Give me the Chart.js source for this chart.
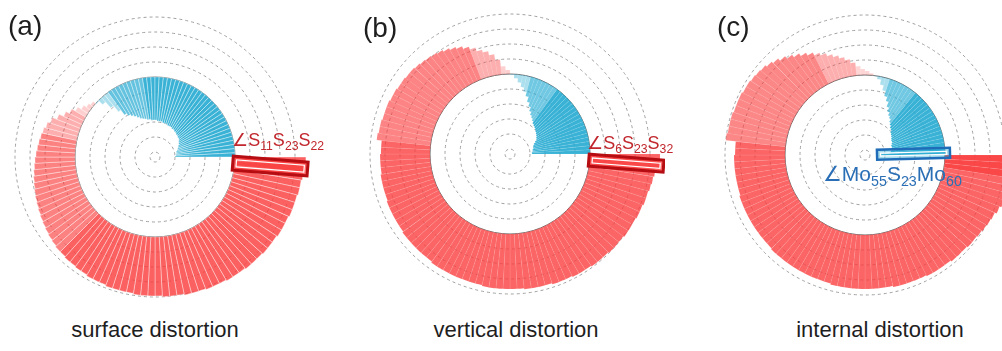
<!DOCTYPE html>
<html>
<head>
<meta charset="utf-8">
<script src="https://cdn.jsdelivr.net/npm/chart.js"></script>
<style>
html, body { margin: 0; padding: 0; background: #fff; overflow: hidden; }
#wrap { position: relative; width: 1002px; height: 351px; overflow: hidden;
  font-family: "Liberation Sans", Arial, "DejaVu Sans", sans-serif; }
canvas { position: absolute; }
.txt { position: absolute; white-space: nowrap; line-height: 1; }
.tag { font-size: 28px; color: #1e1e1e; }
.cap { font-size: 22px; color: #1e1e1e; width: 300px; text-align: center; }
.ang { font-size: 18px; }
.ang sub { font-size: 0.68em; vertical-align: -0.32em; line-height: 0; }
</style>
</head>
<body>
<div id="wrap">
  <canvas id="surf" width="310" height="310" style="left:0px;top:2px"></canvas>
  <canvas id="vert" width="310" height="310" style="left:355px;top:-1px"></canvas>
  <canvas id="intl" width="310" height="310" style="left:710px;top:0px"></canvas>

  <div class="txt tag" style="left:8px;top:12px">(a)</div>
  <div class="txt tag" style="left:363px;top:14px">(b)</div>
  <div class="txt tag" style="left:717px;top:13px">(c)</div>

  <div class="txt ang" style="left:232px;top:131px;color:#c1272d">∠S<sub>11</sub>S<sub>23</sub>S<sub>22</sub></div>
  <div class="txt ang" style="left:587px;top:134px;color:#c1272d">∠S<sub>6</sub>S<sub>23</sub>S<sub>32</sub></div>
  <div class="txt ang" style="left:823px;top:163px;font-size:21px;color:#2a6fb6">∠Mo<sub>55</sub>S<sub>23</sub>Mo<sub>60</sub></div>

  <div class="txt cap" style="left:5px;top:319px">surface distortion</div>
  <div class="txt cap" style="left:366px;top:319px">vertical distortion</div>
  <div class="txt cap" style="left:730px;top:319px">internal distortion</div>
</div>
<script>
// ring grid: 0 is the solid base circle, negative bars point inward (blue), positive outward (red)
const ringTicks = [-5, -4, -3, -2, -1, 0, 1, 2, 3, 4];
const centerValue = -16 / 3;
const outerValue = 5;

// values listed counter-clockwise starting at 3 o'clock, 3 degrees per bar
const surfBlue = [-4.0, -3.93, -3.93, -3.87, -3.87, -3.8, -3.73, -3.67, -3.6, -3.53, -3.47, -3.4,
  -3.33, -3.33, -3.27, -3.27, -3.2, -3.2, -3.13, -3.13, -3.07, -3.07, -3.07, -3.0, -3.0, -3.0,
  -2.93, -2.93, -2.93, -2.87, -2.87, -2.87, -2.8, -2.8, -2.73, -2.67, -2.6, -2.47, -2.33, -2.2,
  -2.07, -1.87, -1.47, -0.93, -0.4, -0.07];
const surfRed = [0.2, 0.33, 0.53, 0.8, 1.07, 1.33, 1.67, 2.0, 2.2, 2.33,
  2.4, 2.47, 2.53, 2.6, 2.67, 2.73, 2.8, 2.87, 2.93, 3.0,
  3.07, 3.13, 3.2, 3.27, 3.33, 3.4, 3.47, 3.53, 3.6, 3.6,
  3.67, 3.67, 3.73, 3.73, 3.8, 3.8, 3.8, 3.87, 3.87, 3.87,
  3.87, 3.93, 3.93, 3.93, 3.93, 4.0, 4.0, 4.0, 4.07, 4.07,
  4.07, 4.13, 4.13, 4.13, 4.2, 4.2, 4.2, 4.27, 4.27, 4.27,
  4.33, 4.33, 4.33, 4.4, 4.4, 4.4, 4.47, 4.47, 4.47, 4.53,
  4.53, 4.6, 4.67, 4.73];

const vertBlue = [-3.87, -3.87, -3.8, -3.8, -3.73, -3.73, -3.67, -3.6, -3.47, -3.33,
  -3.27, -3.2, -3.13, -3.07, -3.0, -2.93, -2.87, -2.8, -2.67, -2.53,
  -2.4, -2.2, -1.93, -1.67, -1.33, -1.07, -0.8, -0.53, -0.27, -0.05];
const vertRed = [0.27, 0.53,
  1.0, 1.4, 1.67, 1.87, 2.13,
  2.33, 2.53, 2.67, 2.8, 2.93, 3.0, 3.07, 3.13, 3.2, 3.27, 3.27, 3.33, 3.33, 3.4, 3.4,
  3.47, 3.47, 3.47, 3.53, 3.53, 3.6,
  3.27, 3.27, 3.33, 3.33, 3.33, 3.4, 3.4, 3.4, 3.4, 3.47, 3.47, 3.47, 3.47, 3.47,
  3.53, 3.53, 3.53, 3.53, 3.53, 3.53, 3.6, 3.6, 3.6, 3.6, 3.6, 3.6, 3.6, 3.6,
  3.67, 3.67, 3.67, 3.67, 3.67, 3.67, 3.73, 3.73, 3.73, 3.73, 3.8, 3.8, 3.8,
  3.87, 3.87, 3.87, 3.93, 3.93, 3.93, 4.0, 4.0, 4.0, 4.07, 4.07, 4.07,
  4.13, 4.13, 4.2, 4.2, 4.27, 4.33, 4.4, 4.67, 4.67];

const intlBlue = [-4.33, -3.67, -3.6, -3.53, -3.53, -3.47, -3.47, -3.4, -3.33, -3.33,
  -3.27, -3.2, -3.13, -3.07, -2.93, -2.87, -2.73, -2.6, -2.4, -2.27,
  -2.07, -1.8, -1.47, -1.2, -0.87, -0.53, -0.2, -0.03];
const intlRed = [0.13, 0.27, 0.4, 0.6,
  0.87, 1.13, 1.33, 1.53, 1.73, 1.93, 2.13,
  2.33, 2.53, 2.73, 2.93, 3.13, 3.33, 3.47, 3.6, 3.67, 3.73, 3.8, 3.8, 3.87, 3.87, 3.87,
  3.93, 3.93, 3.93, 4.0,
  3.33, 3.33, 3.4, 3.4, 3.4, 3.4, 3.4, 3.4, 3.47, 3.47, 3.47, 3.47, 3.47, 3.47, 3.47,
  3.47, 3.47, 3.53, 3.53, 3.53, 3.53, 3.53, 3.53, 3.53, 3.53, 3.53, 3.53, 3.6, 3.6,
  3.6, 3.6, 3.6, 3.6, 3.6, 3.6, 3.6, 3.67, 3.67, 3.67, 3.67, 3.67, 3.73, 3.73, 3.73,
  3.73, 3.8, 3.8, 3.8, 3.87, 3.87, 3.93, 4.0, 4.07, 4.13, 4.27, 4.4, 4.53, 4.73, 4.93,
  5.13, 5.33, 5.47];

// polar area, but every slice starts on the base circle instead of the center
class RingBarController extends Chart.PolarAreaController {
  updateElements(arcs, start, count, mode) {
    super.updateElements(arcs, start, count, mode);
    const scale = this._cachedMeta.rScale;
    const base = scale.getDistanceFromCenterForValue(0);
    for (let i = start; i < start + count; i++) {
      const r = scale.getDistanceFromCenterForValue(this.getParsed(i).r);
      arcs[i].innerRadius = Math.min(base, r);
      arcs[i].outerRadius = Math.max(base, r);
    }
  }
}
RingBarController.id = 'ringBar';
RingBarController.defaults = Chart.PolarAreaController.defaults;
RingBarController.overrides = Chart.PolarAreaController.overrides;
Chart.register(RingBarController);

// outline box around the picked bar
const pickPlugin = {
  id: 'pick',
  afterDatasetsDraw(chart, args, o) {
    const arc = chart.getDatasetMeta(0).data[o.index];
    if (!arc) return;
    const ctx = chart.ctx;
    const mid = (arc.startAngle + arc.endAngle) / 2;
    const x0 = arc.innerRadius - o.padIn;
    const len = arc.outerRadius + o.padOut - x0;
    ctx.save();
    ctx.translate(arc.x, arc.y);
    ctx.rotate(mid);
    ctx.fillStyle = o.fill;
    ctx.fillRect(x0, -o.h / 2, len, o.h);
    ctx.lineWidth = 1.2;
    ctx.strokeStyle = '#fff';
    ctx.strokeRect(x0 + 3.5, -o.h / 2 + 3.5, len - 7, o.h - 7);
    ctx.lineWidth = o.width;
    ctx.strokeStyle = o.color;
    ctx.strokeRect(x0, -o.h / 2, len, o.h);
    ctx.restore();
  }
};

function bandAlpha(bands, deg) {
  for (const b of bands) {
    if (deg >= b[0] && deg < b[1]) return b[2];
  }
  return bands[bands.length - 1][2];
}

function ringChart(id, blue, red, look) {
  // chart.js goes clockwise from 3 o'clock, so flip the counter-clockwise lists
  const values = red.slice().reverse().concat(blue.slice().reverse());
  const step = 360 / values.length;
  return new Chart(document.getElementById(id), {
    type: 'ringBar',
    data: {
      datasets: [{
        data: values,
        clip: false,
        backgroundColor: c => {
          const deg = 360 - (c.dataIndex + 0.5) * step;
          return c.raw < 0
            ? 'rgba(35,170,210,' + bandAlpha(look.blueBands, deg) + ')'
            : 'rgba(250,62,62,' + bandAlpha(look.redBands, deg) + ')';
        },
        borderColor: look.seam,
        borderWidth: look.seamWidth
      }]
    },
    options: {
      responsive: false,
      animation: false,
      events: [],
      layout: { padding: 0 },
      plugins: {
        legend: { display: false },
        tooltip: { enabled: false },
        pick: look.pick
      },
      scales: {
        r: {
          min: centerValue,
          max: outerValue,
          startAngle: 90,
          ticks: { display: false },
          afterBuildTicks: s => { s.ticks = ringTicks.map(v => ({ value: v })); },
          grid: {
            circular: true,
            color: c => (c.tick && c.tick.value === 0) ? '#666' : '#a0a0a0',
            lineWidth: 1
          },
          border: { dash: c => (c.tick && c.tick.value === 0) ? [] : [3, 3] },
          angleLines: { display: false },
          pointLabels: { display: false }
        }
      }
    },
    plugins: [pickPlugin]
  });
}

ringChart('surf', surfBlue, surfRed, {
  blueBands: [[0, 98, 0.9], [98, 126, 0.7], [126, 361, 0.38]],
  redBands: [[0, 150, 0.25], [150, 168, 0.42], [168, 224, 0.65], [224, 361, 0.82]],
  seam: 'rgba(255,255,255,0.75)', seamWidth: 0.5,
  pick: { index: 1, padIn: 2, padOut: 3, h: 14, width: 3, color: '#b50d12', fill: 'rgba(250,62,62,0.75)' }
});
ringChart('vert', vertBlue, vertRed, {
  blueBands: [[0, 55, 0.9], [55, 75, 0.65], [75, 361, 0.38]],
  redBands: [[0, 96, 0.25], [96, 111, 0.42], [111, 174, 0.64], [174, 361, 0.8]],
  seam: 'rgba(255,255,255,0.2)', seamWidth: 0.4,
  pick: { index: 1, padIn: 1, padOut: 4, h: 12, width: 3, color: '#b50d12', fill: 'rgba(250,62,62,0.75)' }
});
ringChart('intl', intlBlue, intlRed, {
  blueBands: [[0, 50, 0.9], [50, 72, 0.65], [72, 361, 0.38]],
  redBands: [[0, 96, 0.22], [96, 117, 0.42], [117, 174, 0.62], [174, 351, 0.8], [351, 361, 0.95]],
  seam: 'rgba(255,255,255,0.2)', seamWidth: 0.4,
  pick: { index: 119, padIn: 3, padOut: 5, h: 10, width: 2.5, color: '#1f6cb8', fill: 'rgba(35,170,210,0.4)' }
});
</script>
</body>
</html>
